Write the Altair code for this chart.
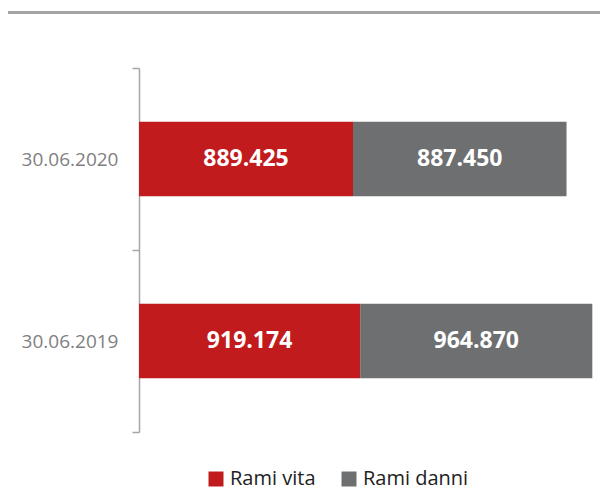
import altair as alt
import pandas as pd

dates = ["30.06.2020", "30.06.2019"]
rami_vita = [889425, 919174]
rami_danni = [887450, 964870]
series = ["Rami vita", "Rami danni"]
colors = ["#C11B1D", "#6E6F71"]

rows = []
for d, v, dn in zip(dates, rami_vita, rami_danni):
    for i, (s, val) in enumerate(zip(series, [v, dn])):
        rows.append({"data": d, "serie": s, "ordine": i, "valore": val,
                     "etichetta": f"{val:,}".replace(",", ".")})
df = pd.DataFrame(rows)

y_enc = alt.Y("data:N", sort=dates, title=None,
              scale=alt.Scale(paddingInner=0, paddingOuter=0),
              axis=alt.Axis(tickBand="extent", labelFont="Open Sans", labelFontSize=19,
                            labelColor="#7F7F7F", domainColor="#A6A6A6", domainWidth=1.5,
                            tickColor="#A6A6A6", tickWidth=1.5, tickSize=7,
                            labelPadding=14, grid=False))

base = alt.Chart(df)

bars = base.mark_bar(height={"band": 0.41}).encode(
    x=alt.X("valore:Q", stack="zero", scale=alt.Scale(domain=[0, 1916000], nice=False),
            axis=None),
    y=y_enc,
    color=alt.Color("serie:N", scale=alt.Scale(domain=series, range=colors),
                    legend=alt.Legend(title=None, orient="none", direction="horizontal",
                                      legendX=67, legendY=401, symbolType="square",
                                      symbolSize=225, symbolStrokeWidth=0,
                                      labelFont="Open Sans", labelFontSize=20,
                                      labelColor="#222222", labelOffset=4,
                                      columnPadding=23, padding=0)),
    order=alt.Order("ordine:Q"),
)

labels = base.transform_stack(
    stack="valore", groupby=["data"], as_=["x0", "x1"],
    sort=[alt.SortField("ordine", order="ascending")]
).transform_calculate(
    mid="(datum.x0 + datum.x1) / 2"
).mark_text(font="Open Sans", fontWeight="bold", fontSize=23, color="white").encode(
    x=alt.X("mid:Q"),
    y=alt.Y("data:N", sort=dates),
    text="etichetta:N",
)

top_line = alt.Chart(pd.DataFrame({"k": [0]})).mark_rule(
    color="#A5A5A5", strokeWidth=3
).encode(x=alt.value(-131), x2=alt.value(461), y=alt.value(-55.5))

chart = alt.layer(bars, labels, top_line).properties(
    width=461, height=364,
    padding={"left": 131, "top": 60, "right": 0, "bottom": 60},
    autosize="none",
).configure_view(stroke=None)

chart.save("out.html", embed_options={"renderer": "svg", "actions": False})
